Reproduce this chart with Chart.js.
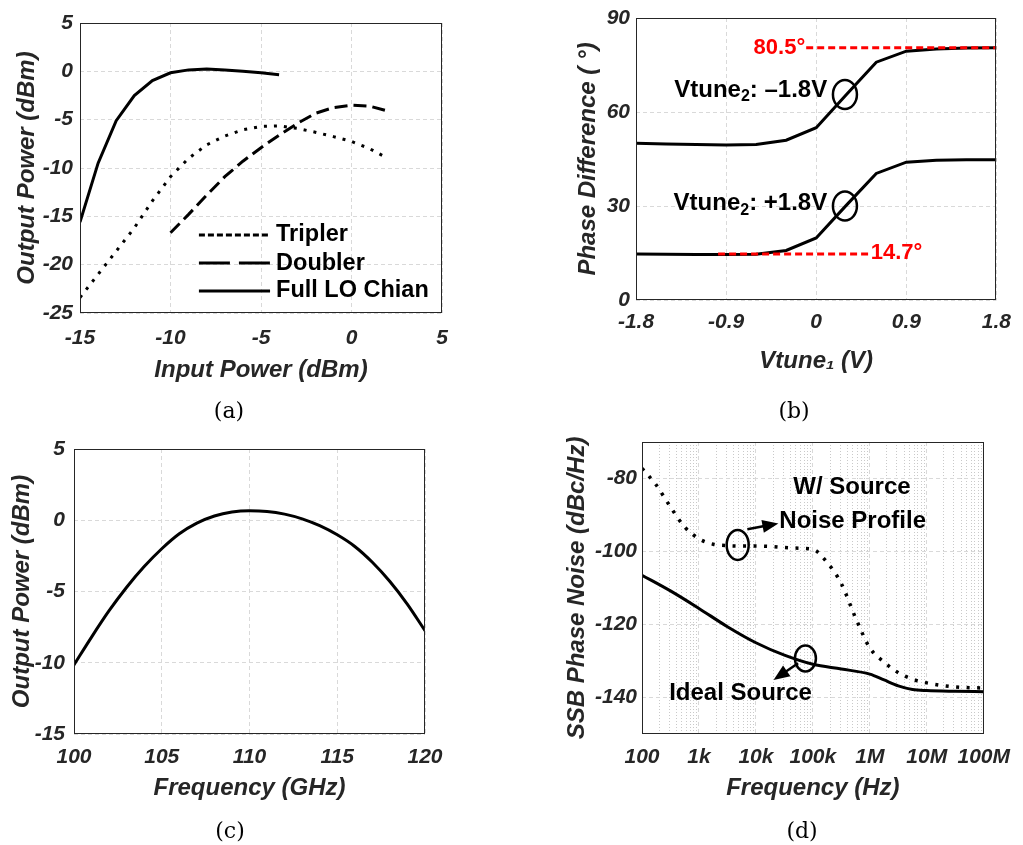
<!DOCTYPE html>
<html>
<head>
<meta charset="utf-8">
<script src="https://cdn.jsdelivr.net/npm/chart.js@4.4.1/dist/chart.umd.min.js"></script>
<style>
  body { margin: 0; background: #fff; }
  #page { position: relative; width: 1023px; height: 845px; overflow: hidden; background: #fff; }
  canvas { position: absolute; }
  .cap { position: absolute; transform: translate(-50%, -50%); font-family: 'DejaVu Serif', 'Liberation Serif', serif; font-size: 22px; color: #000; }
</style>
</head>
<body>
<div id="page">
  <canvas id="chartA" width="511" height="400" style="left:0px;top:0px"></canvas>
  <canvas id="chartB" width="512" height="400" style="left:511px;top:0px"></canvas>
  <canvas id="chartC" width="511" height="400" style="left:0px;top:420px"></canvas>
  <canvas id="chartD" width="512" height="400" style="left:511px;top:420px"></canvas>
  <div class="cap" style="left:229px;top:410px">(a)</div>
  <div class="cap" style="left:794px;top:410px">(b)</div>
  <div class="cap" style="left:230px;top:830px">(c)</div>
  <div class="cap" style="left:802px;top:830px">(d)</div>
</div>
<script>
// ---- (a) output power vs input power
const loIn = [-15, -14, -13, -12, -11, -10, -9, -8, -7, -6, -5, -4];
const loOut = [-15.6, -9.5, -5.1, -2.5, -0.95, -0.15, 0.15, 0.25, 0.15, 0.0, -0.15, -0.35];
const tripIn = [-15, -14, -13, -12, -11, -10, -9, -8, -7, -6, -5, -4, -3, -2, -1, 0, 1, 2];
const tripOut = [-23.4, -21.0, -18.6, -16.2, -13.4, -10.9, -9.0, -7.6, -6.7, -6.05, -5.7, -5.65, -5.9, -6.3, -6.75, -7.25, -8.0, -9.0];
const dblIn = [-10, -9, -8, -7, -6, -5, -4, -3, -2, -1, 0, 1, 2];
const dblOut = [-16.7, -14.8, -12.8, -10.9, -9.3, -7.9, -6.6, -5.4, -4.35, -3.75, -3.5, -3.6, -4.1];
const aTicksX = [-15, -10, -5, 0, 5];
const aTicksY = [-25, -20, -15, -10, -5, 0, 5];

// ---- (b) phase difference vs Vtune1
const vtune1 = [-1.8, -1.5, -1.2, -0.9, -0.6, -0.3, 0, 0.3, 0.6, 0.9, 1.2, 1.5, 1.8];
const phaseNeg = [50.0, 49.8, 49.6, 49.5, 49.6, 51.0, 55.0, 65.5, 75.9, 79.4, 80.1, 80.4, 80.5]; // Vtune2 = -1.8 V
const phasePos = [14.7, 14.6, 14.5, 14.5, 14.6, 15.8, 19.8, 30.2, 40.4, 44.0, 44.6, 44.8, 44.8]; // Vtune2 = +1.8 V
const markHigh = 80.5, markHighSpan = [-0.1, 1.8];
const markLow = 14.7, markLowSpan = [-0.98, 0.53];
const bTicksX = [-1.8, -0.9, 0, 0.9, 1.8];
const bTicksY = [0, 30, 60, 90];

// ---- (c) output power vs frequency
const freqGHz = [100, 101, 102, 103, 104, 105, 106, 107, 108, 109, 110, 111, 112, 113, 114, 115, 116, 117, 118, 119, 120];
const outPowerC = [-10.15, -8.2, -6.35, -4.7, -3.25, -2.0, -0.95, -0.2, 0.3, 0.58, 0.67, 0.62, 0.43, 0.1, -0.38, -1.02, -1.84, -2.95, -4.3, -5.9, -7.75];
const cTicksX = [100, 105, 110, 115, 120];
const cTicksY = [-15, -10, -5, 0, 5];

// ---- (d) SSB phase noise
const srcHz = [100, 178, 316, 562, 1e3, 1.78e3, 3.16e3, 5.62e3, 1e4, 1.78e4, 3.16e4, 5.62e4, 1e5, 1.78e5, 3.16e5, 5.62e5, 1e6, 1.78e6, 3.16e6, 5.62e6, 1e7, 3.16e7, 1e8];
const srcPN = [-77.2, -81.8, -87.8, -93.3, -96.5, -98.0, -98.4, -98.5, -98.5, -98.6, -98.9, -99.1, -99.4, -103.0, -108.8, -118.2, -126.4, -130.3, -133.2, -135.0, -136.0, -137.1, -137.4];
const idealHz = [100, 316, 1e3, 3.16e3, 1e4, 3.16e4, 1e5, 3.16e5, 1e6, 1.78e6, 3.16e6, 5.62e6, 1e7, 3.16e7, 1e8];
const idealPN = [-106.5, -110.8, -115.6, -120.6, -125.0, -128.4, -130.9, -132.2, -133.6, -135.2, -136.8, -137.8, -138.1, -138.3, -138.4];
const dDecades = [1e2, 1e3, 1e4, 1e5, 1e6, 1e7, 1e8];
const dDecadeLabels = ['100', '1k', '10k', '100k', '1M', '10M', '100M'];
const dTicksY = [-140, -120, -100, -80];

const INK = '#262626';
const GRID = '#d9d9d9';
const AXIS_FAMILY = "'Liberation Sans', Arial, sans-serif";
const NOTE_FAMILY = "'Liberation Sans', Arial, sans-serif";
const TICK_FONT = { family: AXIS_FAMILY, size: 21, style: 'italic', weight: 'bold', lineHeight: 1 };
const TITLE_FONT = { family: AXIS_FAMILY, size: 24, style: 'italic', weight: 'bold', lineHeight: 1.2 };

const xy = (xs, ys) => xs.map((v, i) => ({ x: v, y: ys[i] }));

// layout: place the plot box exactly where it sits in the figure
function geometry(box, plot, yTitleX, xTitleY) {
  const lh = TITLE_FONT.size * TITLE_FONT.lineHeight;
  const pad = {
    left: yTitleX - box.left - lh / 2,
    top: plot.top - box.top,
    right: box.left + box.width - plot.right,
    bottom: box.top + box.height - (xTitleY + lh / 2)
  };
  return { pad, yWidth: plot.left - box.left - pad.left, xHeight: xTitleY + lh / 2 - plot.bottom };
}

function axis(g, horiz, o) {
  return {
    type: o.type || 'linear',
    min: o.min, max: o.max,
    afterBuildTicks: s => { s.ticks = o.ticks.map(v => ({ value: v })); },
    afterFit: s => { if (horiz) s.height = g.xHeight; else s.width = g.yWidth; },
    grid: { color: GRID, lineWidth: 1, drawTicks: false },
    border: { display: false, dash: [4, 3] },
    ticks: {
      font: TICK_FONT, color: INK, padding: o.pad, autoSkip: false, maxRotation: 0,
      callback: o.label || (v => String(v))
    },
    title: { display: true, text: o.title, font: TITLE_FONT, color: INK, padding: 0 }
  };
}

const frame = {
  id: 'frame',
  afterDatasetsDraw(chart) {
    const { ctx, chartArea: a } = chart;
    ctx.save();
    ctx.strokeStyle = INK;
    ctx.lineWidth = 1;
    ctx.strokeRect(Math.round(a.left) + 0.5, Math.round(a.top) + 0.5, Math.round(a.width) - 1, Math.round(a.height) - 1);
    ctx.restore();
  }
};

function drawRich(ctx, parts, px, py, align, color, size) {
  if (typeof parts === 'string') parts = [{ t: parts }];
  const main = `bold ${size}px ${NOTE_FAMILY}`;
  const sub = `bold ${Math.round(size * 0.65)}px ${NOTE_FAMILY}`;
  ctx.textBaseline = 'middle';
  ctx.textAlign = 'left';
  const w = parts.map(p => { ctx.font = p.sub ? sub : main; return ctx.measureText(p.t).width; });
  const total = w.reduce((a, b) => a + b, 0);
  let cx = align === 'right' ? px - total : align === 'center' ? px - total / 2 : px;
  ctx.fillStyle = color;
  parts.forEach((p, i) => {
    ctx.font = p.sub ? sub : main;
    ctx.fillText(p.t, cx, py + (p.sub ? size * 0.28 : 0));
    cx += w[i];
  });
}

// annotations given in data coordinates
function notes(items) {
  return {
    id: 'notes',
    afterDatasetsDraw(chart) {
      const { ctx, scales: { x, y } } = chart;
      const X = v => x.getPixelForValue(v), Y = v => y.getPixelForValue(v);
      ctx.save();
      ctx.strokeStyle = '#000';
      ctx.fillStyle = '#000';
      items.forEach(it => {
        if (it.kind === 'ellipse') {
          ctx.lineWidth = 2.5;
          ctx.beginPath();
          ctx.ellipse(X(it.x), Y(it.y), it.rx, it.ry, 0, 0, Math.PI * 2);
          ctx.stroke();
        } else if (it.kind === 'arrow') {
          const x1 = X(it.x1), y1 = Y(it.y1), x2 = X(it.x2), y2 = Y(it.y2);
          const ang = Math.atan2(y2 - y1, x2 - x1), L = 16, W = 6.5;
          ctx.lineWidth = 2.5;
          ctx.beginPath();
          ctx.moveTo(x1, y1);
          ctx.lineTo(x2 - Math.cos(ang) * L * 0.8, y2 - Math.sin(ang) * L * 0.8);
          ctx.stroke();
          ctx.beginPath();
          ctx.moveTo(x2, y2);
          ctx.lineTo(x2 - Math.cos(ang) * L - Math.sin(ang) * W, y2 - Math.sin(ang) * L + Math.cos(ang) * W);
          ctx.lineTo(x2 - Math.cos(ang) * L + Math.sin(ang) * W, y2 - Math.sin(ang) * L - Math.cos(ang) * W);
          ctx.closePath();
          ctx.fill();
        } else if (it.kind === 'key') {
          ctx.lineWidth = 3;
          ctx.setLineDash(it.dash);
          ctx.beginPath();
          ctx.moveTo(X(it.x1), Y(it.y));
          ctx.lineTo(X(it.x2), Y(it.y));
          ctx.stroke();
          ctx.setLineDash([]);
          drawRich(ctx, it.text, X(it.x2) + 6, Y(it.y), 'left', '#000', 23.5);
        } else {
          drawRich(ctx, it.text, X(it.x), Y(it.y), it.align || 'center', it.color || '#000', it.size || 24);
        }
      });
      ctx.restore();
    }
  };
}

function lineSet(data, dash, width, color) {
  return {
    data, borderColor: color || '#000', borderWidth: width || 3, borderDash: dash || [],
    pointRadius: 0, tension: 0, fill: false
  };
}

function build(id, g, scales, datasets, items) {
  return new Chart(document.getElementById(id), {
    type: 'line',
    data: { datasets },
    options: {
      responsive: false, animation: false, devicePixelRatio: 1,
      layout: { padding: g.pad },
      plugins: { legend: { display: false }, tooltip: { enabled: false } },
      scales
    },
    plugins: [frame, notes(items)]
  });
}

// ---------- (a)
const gA = geometry({ left: 0, top: 0, width: 511, height: 400 }, { left: 80, top: 23, right: 442, bottom: 313 }, 27, 370);
build('chartA', gA, {
  x: axis(gA, true, { min: -15, max: 5, ticks: aTicksX, pad: 15, title: 'Input Power (dBm)' }),
  y: axis(gA, false, { min: -25, max: 5, ticks: aTicksY, pad: 7, title: 'Output Power (dBm)' })
}, [
  lineSet(xy(loIn, loOut)),
  lineSet(xy(dblIn, dblOut), [13, 6]),
  lineSet(xy(tripIn, tripOut), [3, 7])
], [
  { kind: 'key', x1: -8.43, x2: -4.5, y: -16.93, dash: [6, 3], text: 'Tripler' },
  { kind: 'key', x1: -8.43, x2: -4.5, y: -19.83, dash: [31, 9], text: 'Doubler' },
  { kind: 'key', x1: -8.43, x2: -4.5, y: -22.72, dash: [], text: 'Full LO Chian' }
]);

// ---------- (b)
const gB = geometry({ left: 511, top: 0, width: 512, height: 400 }, { left: 636, top: 18, right: 1000, bottom: 300 }, 588, 361);
build('chartB', gB, {
  x: axis(gB, true, { min: -1.8, max: 1.8, ticks: bTicksX, pad: 12, title: 'Vtune\u2081 (V)' }),
  y: axis(gB, false, { min: 0, max: 90, ticks: bTicksY, pad: 6, title: 'Phase Difference ( \u00b0)' })
}, [
  lineSet(xy(markHighSpan, [markHigh, markHigh]), [7, 4], 3, '#ff0000'),
  lineSet(xy(markLowSpan, [markLow, markLow]), [7, 4], 3, '#ff0000'),
  lineSet(xy(vtune1, phaseNeg)),
  lineSet(xy(vtune1, phasePos))
], [
  { text: '80.5\u00b0', x: -0.11, y: 80.6, align: 'right', color: '#ff0000', size: 22 },
  { text: '14.7\u00b0', x: 0.545, y: 15.0, align: 'left', color: '#ff0000', size: 22 },
  { text: [{ t: 'Vtune' }, { t: '2', sub: true }, { t: ': \u20131.8V' }], x: 0.11, y: 67.0, align: 'right' },
  { text: [{ t: 'Vtune' }, { t: '2', sub: true }, { t: ': +1.8V' }], x: 0.11, y: 30.8, align: 'right' },
  { kind: 'ellipse', x: 0.287, y: 65.6, rx: 12, ry: 14.5 },
  { kind: 'ellipse', x: 0.287, y: 30.0, rx: 12, ry: 14.5 }
]);

// ---------- (c)
const gC = geometry({ left: 0, top: 420, width: 511, height: 400 }, { left: 74, top: 449, right: 425, bottom: 734 }, 22, 788);
const curveC = lineSet(xy(freqGHz, outPowerC));
curveC.cubicInterpolationMode = 'monotone';
build('chartC', gC, {
  x: axis(gC, true, { min: 100, max: 120, ticks: cTicksX, pad: 13, title: 'Frequency (GHz)' }),
  y: axis(gC, false, { min: -15, max: 5, ticks: cTicksY, pad: 9, title: 'Output Power (dBm)' })
}, [curveC], []);

// ---------- (d)
const gD = geometry({ left: 511, top: 420, width: 512, height: 400 }, { left: 642, top: 442, right: 992, bottom: 734 }, 577, 788);
const minorHz = [];
dDecades.slice(0, -1).forEach(d => { for (let k = 2; k <= 9; k++) minorHz.push(d * k); });
const xD = axis(gD, true, {
  type: 'logarithmic', min: 1e2, max: 1e8, ticks: dDecades, pad: 13, title: 'Frequency (Hz)',
  label: v => dDecadeLabels[dDecades.indexOf(v)] ?? ''
});
const xMinor = {
  type: 'logarithmic', min: 1e2, max: 1e8, position: 'bottom',
  afterBuildTicks: s => { s.ticks = minorHz.map(v => ({ value: v })); },
  afterFit: s => { s.height = 0; },
  grid: { color: '#c9c9c9', lineWidth: 1, drawTicks: false },
  border: { display: false, dash: [1, 2] },
  ticks: { display: false },
  title: { display: false }
};
const srcSet = lineSet(xy(srcHz, srcPN), [3, 7.5], 3.5);
const idealSet = lineSet(xy(idealHz, idealPN));
srcSet.cubicInterpolationMode = idealSet.cubicInterpolationMode = 'monotone';
build('chartD', gD, {
  xm: xMinor,
  x: xD,
  y: axis(gD, false, { min: -150, max: -70, ticks: dTicksY, pad: 5, title: 'SSB Phase Noise (dBc/Hz)' })
}, [idealSet, srcSet], [
  { text: 'W/ Source', x: 4.85e5, y: -82.3 },
  { text: 'Noise Profile', x: 5.0e5, y: -91.8 },
  { text: 'Ideal Source', x: 5370, y: -138.9 },
  { kind: 'ellipse', x: 4786, y: -98.2, rx: 11, ry: 15 },
  { kind: 'ellipse', x: 74000, y: -129.3, rx: 10.5, ry: 13 },
  { kind: 'arrow', x1: 7080, y1: -93.9, x2: 24800, y2: -92.3 },
  { kind: 'arrow', x1: 55000, y1: -130.6, x2: 20400, y2: -135.2 }
]);
</script>
</body>
</html>
